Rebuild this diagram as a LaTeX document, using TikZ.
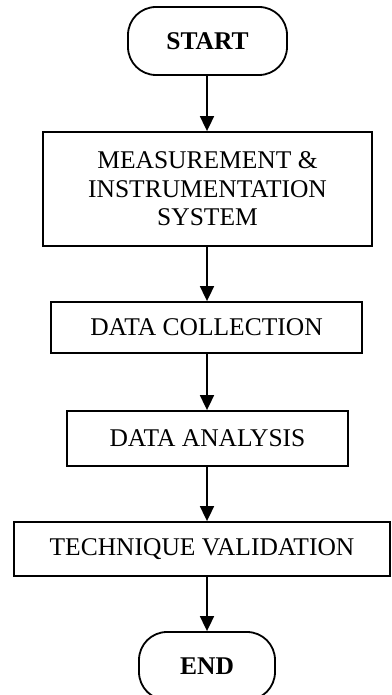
\documentclass[tikz,border=0pt]{standalone}
\usepackage{fontspec}
\setmainfont{Liberation Serif}
\usetikzlibrary{arrows.meta}
\begin{document}
\begin{tikzpicture}[x=1pt,y=1pt,
  every node/.style={line width=1.8pt, inner sep=0pt, font=\fontsize{25.5}{28.5}\selectfont, align=center},
  procbox/.style={draw, rectangle},
  termbox/.style={draw, rectangle, rounded corners=28pt, font=\fontsize{25.5}{28.5}\selectfont\bfseries},
  flow/.style={line width=1.8pt, -{Triangle[width=14pt,length=15pt]}}]
\useasboundingbox (0,0) rectangle (391,695);
\clip (0,0) rectangle (391,695);
\node[termbox, minimum width=159pt, minimum height=68pt] (start) at (207.5,654) {START};
\node[procbox, minimum width=329pt, minimum height=114pt] (meas) at (207.5,506) {MEASUREMENT \&\\INSTRUMENTATION\\SYSTEM};
\node[procbox, minimum width=311pt, minimum height=51pt] (coll) at (206.5,367.5) {DATA COLLECTION};
\node[procbox, minimum width=281pt, minimum height=55pt] (anal) at (207.5,256.5) {DATA ANALYSIS};
\node[procbox, minimum width=376pt, minimum height=54pt] (valid) at (202,146) {TECHNIQUE VALIDATION};
\node[termbox, minimum width=136pt, minimum height=68pt] (end) at (207,29) {END};
\draw[flow] (207,0 |- start.south) -- (207,0 |- meas.north);
\draw[flow] (207,0 |- meas.south) -- (207,0 |- coll.north);
\draw[flow] (207,0 |- coll.south) -- (207,0 |- anal.north);
\draw[flow] (207,0 |- anal.south) -- (207,0 |- valid.north);
\draw[flow] (207,0 |- valid.south) -- (207,0 |- end.north);
\end{tikzpicture}
\end{document}
